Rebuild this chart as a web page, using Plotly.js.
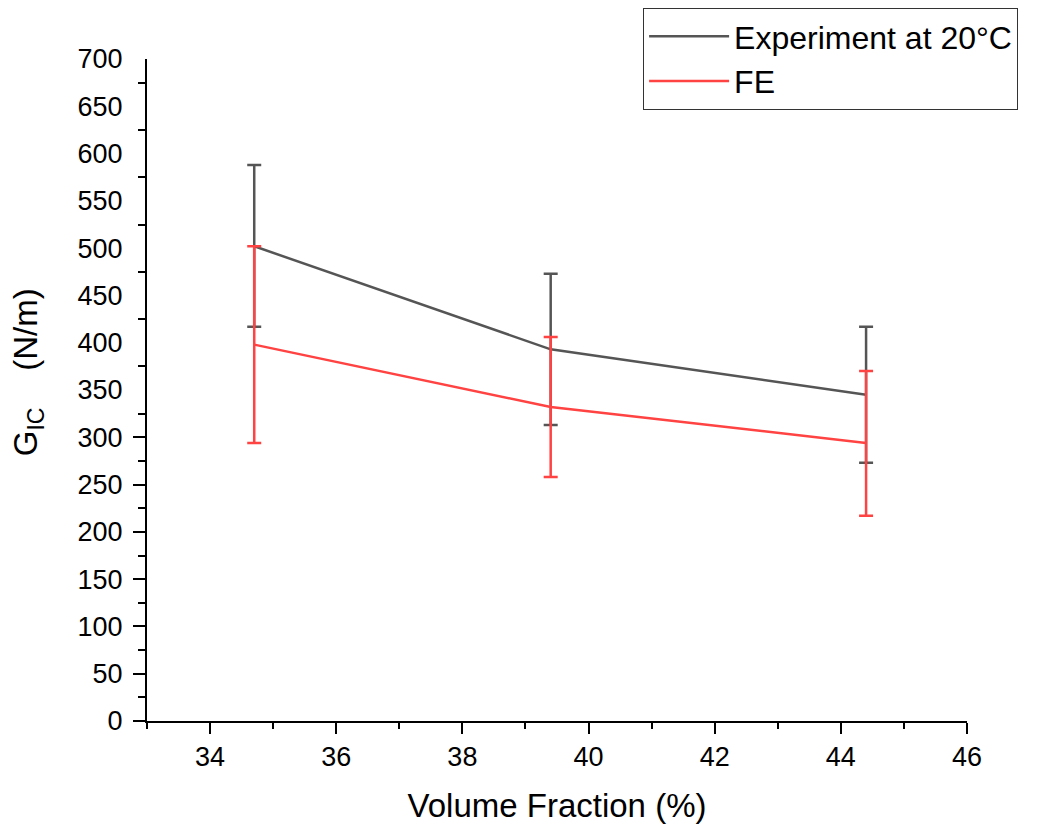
<!DOCTYPE html>
<html>
<head>
<meta charset="utf-8">
<script src="https://cdn.plot.ly/plotly-3.0.1.min.js"></script>
<style>html,body{margin:0;padding:0;background:#fff;}#chart{width:1041px;height:830px;}</style>
</head>
<body>
<div id="chart"></div>
<script>
// Data
const volumeFraction = [34.7, 39.4, 44.4];
const expValues = [502, 393, 345];
const expErrPlus = [86, 80, 72];
const expErrMinus = [85, 80, 72];
const feValues = [398, 332, 294];
const feErrPlus = [104, 74, 76];
const feErrMinus = [104, 74, 77];
const yTickVals = [0, 50, 100, 150, 200, 250, 300, 350, 400, 450, 500, 550, 600, 650, 700];
const yMajorTickVals = [0, 50, 100, 150, 200, 250, 300];
const yMinorTickVals = [25, 75, 125, 175, 225, 275, 325, 375, 425, 475, 525, 575, 625, 675];

const grayC = '#555555';
const redC = '#FF4242';
const font = 'Arial, "Liberation Sans", sans-serif';

const traces = [
  {
    x: volumeFraction, y: expValues, type: 'scatter', mode: 'lines',
    name: 'Experiment at 20°C',
    line: {color: grayC, width: 2.5},
    error_y: {type: 'data', symmetric: false, array: expErrPlus, arrayminus: expErrMinus,
              color: grayC, thickness: 2.5, width: 7}
  },
  {
    x: volumeFraction, y: feValues, type: 'scatter', mode: 'lines',
    name: 'FE',
    line: {color: redC, width: 2.5},
    error_y: {type: 'data', symmetric: false, array: feErrPlus, arrayminus: feErrMinus,
              color: redC, thickness: 2.5, width: 7}
  },
  {x: [], y: [], yaxis: 'y2', showlegend: false, hoverinfo: 'skip', type: 'scatter'}
];

const layout = {
  width: 1041, height: 830,
  margin: {l: 147, r: 74, t: 59, b: 109, autoexpand: false},
  paper_bgcolor: '#fff', plot_bgcolor: '#fff',
  font: {family: font, color: '#000'},
  showlegend: true,
  legend: {
    x: 0.605, y: 1.077, xanchor: 'left', yanchor: 'top',
    bordercolor: '#333', borderwidth: 1, bgcolor: '#fff',
    font: {family: font, size: 32, color: '#000'},
    itemwidth: 80, tracegroupgap: 0
  },
  xaxis: {
    range: [33, 46], tick0: 34, dtick: 2, tickmode: 'linear',
    showline: true, linecolor: '#000', linewidth: 2,
    ticks: 'outside', ticklen: 11, tickwidth: 2, tickcolor: '#000',
    minor: {dtick: 1, tick0: 33, ticks: 'outside', ticklen: 6, tickwidth: 2, tickcolor: '#000'},
    showgrid: false, zeroline: false,
    tickfont: {family: font, size: 27, color: '#000'},
    title: {text: 'Volume Fraction (%)', font: {family: font, size: 33, color: '#000'}, standoff: 22}
  },
  yaxis: {
    range: [0, 700], tickmode: 'array', tickvals: yTickVals,
    ticktext: yTickVals.map(String),
    showline: true, linecolor: '#000', linewidth: 2,
    ticks: 'outside', ticklen: 13, tickwidth: 2, tickcolor: 'rgba(0,0,0,0)',
    minor: {tickmode: 'array', tickvals: yMinorTickVals, ticks: 'outside', ticklen: 7, tickwidth: 2, tickcolor: '#000'},
    showgrid: false, zeroline: false,
    tickfont: {family: font, size: 27, color: '#000'},
    ticklabelstandoff: 4
  },
  yaxis2: {
    range: [0, 700], overlaying: 'y', anchor: 'x', side: 'left',
    tickmode: 'array', tickvals: yMajorTickVals,
    ticks: 'outside', ticklen: 13, tickwidth: 2, tickcolor: '#000',
    showticklabels: false, showline: false, showgrid: false, zeroline: false
  },
  annotations: [
    {
      xref: 'paper', yref: 'paper', x: -0.145, y: 0.527, xanchor: 'center', yanchor: 'middle',
      textangle: -90, showarrow: false,
      text: 'G<sub>IC</sub>    (N/m)',
      font: {family: font, size: 33, color: '#000'}
    }
  ]
};

Plotly.newPlot('chart', traces, layout, {displayModeBar: false, staticPlot: true});
</script>
</body>
</html>
